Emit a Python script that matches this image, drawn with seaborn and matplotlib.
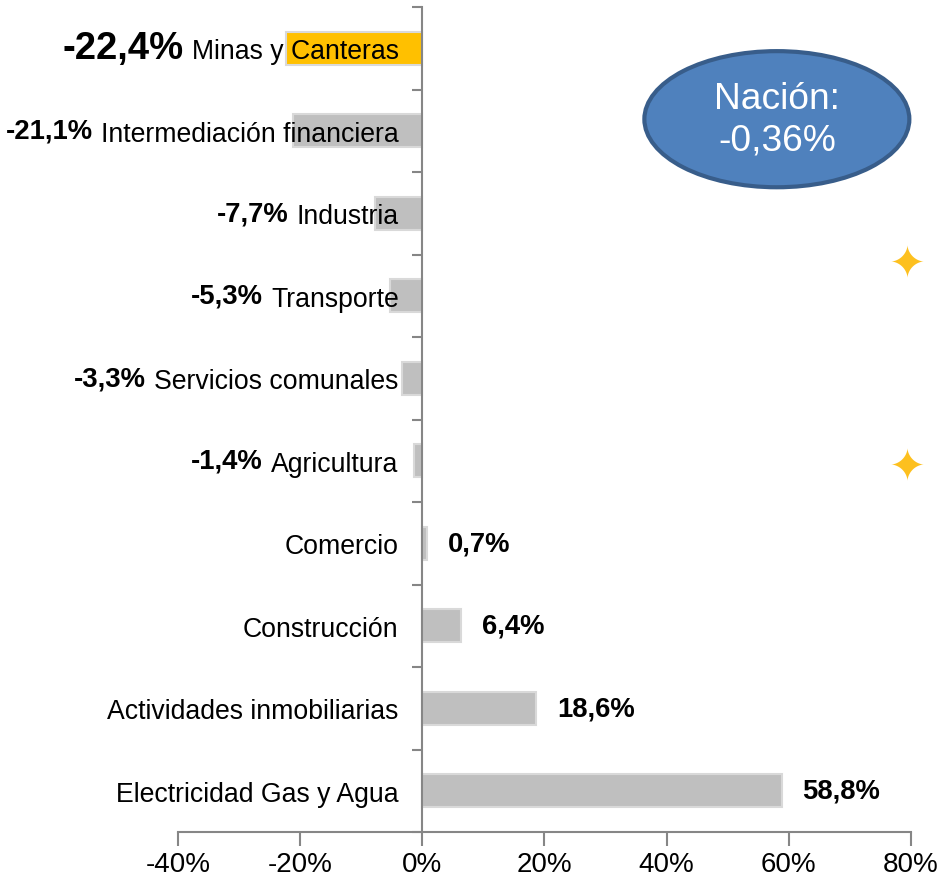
import numpy as np
import pandas as pd
import matplotlib
matplotlib.use("Agg")
import matplotlib.pyplot as plt
from matplotlib.patches import Ellipse
from matplotlib.path import Path
from matplotlib.ticker import FuncFormatter, FixedLocator
import seaborn as sns

# ---- data ----
categories = ["Minas y Canteras", "Intermediación financiera", "Industria", "Transporte",
              "Servicios comunales", "Agricultura", "Comercio", "Construcción",
              "Actividades inmobiliarias", "Electricidad Gas y Agua"]
values = [-22.4, -21.1, -7.7, -5.3, -3.3, -1.4, 0.7, 6.4, 18.6, 58.8]
nation_label = "Nación:\n-0,36%"
x_ticks = [-40, -20, 0, 20, 40, 60, 80]

# ---- style ----
sns.set_theme(style="white")
plt.rcParams['font.family'] = ['Liberation Sans', 'DejaVu Sans']
GRAY = "#BFBFBF"
HILITE = "#FFC000"
AXIS = "#868686"

colors = [HILITE] + [GRAY] * (len(categories) - 1)
df = pd.DataFrame({"cat": categories, "val": values})

fig = plt.figure(figsize=(9.39, 8.78), dpi=100)
ax = fig.add_axes([178 / 939, 45 / 878, 733 / 939, 825 / 878])

sns.barplot(data=df, x="val", y="cat", hue="cat", palette=colors, legend=False,
            orient="h", width=0.4, edgecolor="#D9D9D9", linewidth=1.5, ax=ax,
            saturation=1)
ax.set_axisbelow(False)

ax.set_xlim(-40, 80)
ax.set_ylim(len(categories) - 0.5, -0.5)
ax.set_xticks(x_ticks)
ax.xaxis.set_major_formatter(FuncFormatter(lambda v, p: f"{int(round(v))}%"))
ax.set_xlabel("")
ax.set_ylabel("")

for s in ["top", "right"]:
    ax.spines[s].set_visible(False)
ax.spines["left"].set_position(("data", 0))
for s in ["left", "bottom"]:
    ax.spines[s].set_color(AXIS)
    ax.spines[s].set_linewidth(1.5)
    ax.spines[s].set_zorder(3)

ax.tick_params(axis="x", direction="out", length=10, width=1.5, color=AXIS,
               labelsize=20, pad=4, bottom=True)
ax.tick_params(axis="y", which="major", length=0, pad=17, labelsize=19.2)
ax.yaxis.set_minor_locator(FixedLocator(np.arange(-0.5, len(categories), 1.0)))
ax.tick_params(axis="y", which="minor", direction="out", length=7, width=1.5,
               color=AXIS, left=True)
for lbl in ax.get_yticklabels():
    lbl.set_color("black")
for lbl in ax.get_xticklabels():
    lbl.set_color("black")

fig.canvas.draw()
ylabels = ax.get_yticklabels()
for i, (v, lbl) in enumerate(zip(values, ylabels)):
    txt = f"{abs(v):.1f}".replace(".", ",")
    txt = ("-" if v < 0 else "") + txt + "%"
    size = 27.5 if i == 0 else 19.8
    if v < 0:
        ax.annotate(txt, xy=(0, 0.5), xycoords=lbl, xytext=(-6, 2),
                    textcoords="offset points", ha="right", va="center",
                    fontsize=size, fontweight="bold", color="black",
                    annotation_clip=False)
    else:
        ax.annotate(txt, xy=(v, i), xytext=(15, 0), textcoords="offset points",
                    ha="left", va="center", fontsize=size, fontweight="bold",
                    color="black")

# Nation ellipse
ell = Ellipse((0.817, 0.864), 0.3615, 0.165, transform=ax.transAxes,
              facecolor="#4F81BD", edgecolor="#385D8A", linewidth=3, zorder=5,
              clip_on=False)
ax.add_patch(ell)
ax.text(0.817, 0.864, nation_label, transform=ax.transAxes, ha="center",
        va="center", color="white", fontsize=26.7, zorder=6, linespacing=1.25)

# sparkle stars (superellipse with concave sides)
th = np.linspace(0, 2 * np.pi, 200)
p = 0.6
sx = np.sign(np.cos(th)) * np.abs(np.cos(th)) ** (2 / p)
sy = np.sign(np.sin(th)) * np.abs(np.sin(th)) ** (2 / p)
verts = list(zip(sx, sy))
star = Path(verts, [Path.MOVETO] + [Path.LINETO] * (len(verts) - 2) + [Path.CLOSEPOLY])
ax.scatter([0.9945, 0.9945], [0.692, 0.446], transform=ax.transAxes, marker=star,
           s=560, color="#FDC01F", linewidths=0, clip_on=False, zorder=6)

fig.savefig("out.png", dpi=100)
